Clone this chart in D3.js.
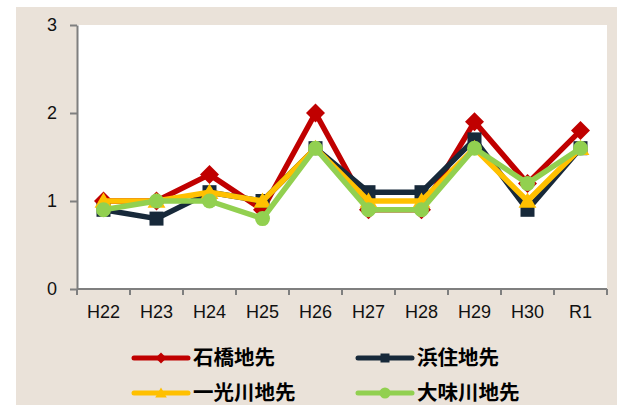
<!DOCTYPE html>
<html>
<head>
<meta charset="utf-8">
<script src="https://cdn.jsdelivr.net/npm/d3@7"></script>
<style>
  html, body { margin: 0; padding: 0; background: #ffffff; }
  svg { display: block; }
</style>
</head>
<body>
<script>
// Survey years and values per sampling site
const years = ["H22", "H23", "H24", "H25", "H26", "H27", "H28", "H29", "H30", "R1"];
const ishibashi = [1.0, 1.0, 1.3, 0.9, 2.0, 0.9, 0.9, 1.9, 1.2, 1.8];
const hamazumi  = [0.9, 0.8, 1.1, 1.0, 1.6, 1.1, 1.1, 1.7, 0.9, 1.6];
const ikkogawa  = [1.0, 1.0, 1.1, 1.0, 1.6, 1.0, 1.0, 1.6, 1.0, 1.6];
const ominogawa = [0.9, 1.0, 1.0, 0.8, 1.6, 0.9, 0.9, 1.6, 1.2, 1.6];
const yTicks = [0, 1, 2, 3];

const series = [
  { name: "石橋地先",   values: ishibashi, color: "#C00000", shape: "diamond" },
  { name: "浜住地先",   values: hamazumi,  color: "#17293A", shape: "square" },
  { name: "一光川地先", values: ikkogawa,  color: "#FFC000", shape: "triangle" },
  { name: "大味川地先", values: ominogawa, color: "#92D050", shape: "circle" }
];

const W = 617, H = 405;
const plot = { left: 77, right: 607, top: 25, bottom: 289 };

const svg = d3.select("body").append("svg").attr("width", W).attr("height", H);

// panel background
svg.append("rect").attr("x", 16).attr("y", 7).attr("width", W - 16).attr("height", H - 7)
  .attr("fill", "#EAE2D9");
svg.append("rect").attr("x", plot.left).attr("y", plot.top)
  .attr("width", plot.right - plot.left).attr("height", plot.bottom - plot.top)
  .attr("fill", "#ffffff");

const x = d3.scaleBand().domain(years).range([plot.left, plot.right]);
const y = d3.scaleLinear().domain([0, 3]).range([plot.bottom, plot.top]);

const font = "'Liberation Sans', Arial, sans-serif";

// y axis
const yAxis = svg.append("g").attr("transform", `translate(${plot.left},0)`)
  .call(d3.axisLeft(y).tickValues(yTicks).tickFormat(d3.format("d")).tickSize(7).tickSizeOuter(0));
yAxis.select(".domain").attr("stroke", "#7f7f7f").attr("stroke-width", 2);
yAxis.selectAll(".tick line").attr("stroke", "#7f7f7f").attr("stroke-width", 2);
yAxis.selectAll(".tick text").attr("font-family", font).attr("font-size", 18)
  .attr("fill", "#111").attr("x", -20);

// x axis with ticks on category boundaries
const xAxis = svg.append("g").attr("transform", `translate(0,${plot.bottom})`);
xAxis.append("line").attr("x1", plot.left).attr("x2", plot.right)
  .attr("stroke", "#7f7f7f").attr("stroke-width", 2);
const bounds = years.map(d => x(d)).concat([plot.right]);
xAxis.selectAll("line.tk").data(bounds).join("line").attr("class", "tk")
  .attr("x1", d => d).attr("x2", d => d).attr("y1", 0).attr("y2", 6)
  .attr("stroke", "#7f7f7f").attr("stroke-width", 2);
xAxis.selectAll("text").data(years).join("text")
  .attr("x", d => x(d) + x.bandwidth() / 2).attr("y", 29)
  .attr("text-anchor", "middle").attr("font-family", font).attr("font-size", 18)
  .attr("fill", "#111").text(d => d);

const cx = d => x(d) + x.bandwidth() / 2;

function marker(sel, shape, s) {
  if (shape === "diamond") {
    sel.append("path").attr("d", `M0,${-s}L${s},0L0,${s}L${-s},0Z`);
  } else if (shape === "square") {
    sel.append("rect").attr("x", -s).attr("y", -s).attr("width", 2 * s).attr("height", 2 * s);
  } else if (shape === "triangle") {
    sel.append("path").attr("d", `M0,${-s}L${s * 1.05},${s * 0.8}L${-s * 1.05},${s * 0.8}Z`);
  } else {
    sel.append("circle").attr("r", s);
  }
}

const line = d3.line().x((d, i) => cx(years[i])).y(d => y(d));

series.forEach(s => {
  const g = svg.append("g").attr("fill", s.color);
  g.append("path").attr("d", line(s.values)).attr("fill", "none")
    .attr("stroke", s.color).attr("stroke-width", 5.5).attr("stroke-linejoin", "round");
  const size = { diamond: 9.5, square: 7, triangle: 8.5, circle: 7.5 }[s.shape];
  s.values.forEach((v, i) => {
    const m = g.append("g").attr("transform", `translate(${cx(years[i])},${y(v)})`);
    marker(m, s.shape, size);
  });
});

// legend
const legendItems = [
  { s: series[0], x: 134, y: 358 },
  { s: series[1], x: 358, y: 358 },
  { s: series[2], x: 134, y: 393 },
  { s: series[3], x: 358, y: 393 }
];
legendItems.forEach(it => {
  const g = svg.append("g").attr("transform", `translate(${it.x},${it.y})`).attr("fill", it.s.color);
  g.append("line").attr("x1", 0).attr("x2", 54).attr("stroke", it.s.color)
    .attr("stroke-width", 5).attr("stroke-linecap", "round");
  const m = g.append("g").attr("transform", "translate(27,0)");
  marker(m, it.s.shape, it.s.shape === "square" ? 4.5 : 5.5);
  g.append("text").attr("x", 59).attr("y", 0).attr("dy", "0.36em")
    .attr("font-family", "'Noto Sans CJK JP', sans-serif").attr("font-weight", "bold")
    .attr("font-size", 20.5).attr("fill", "#000").text(it.s.name);
});
</script>
</body>
</html>
